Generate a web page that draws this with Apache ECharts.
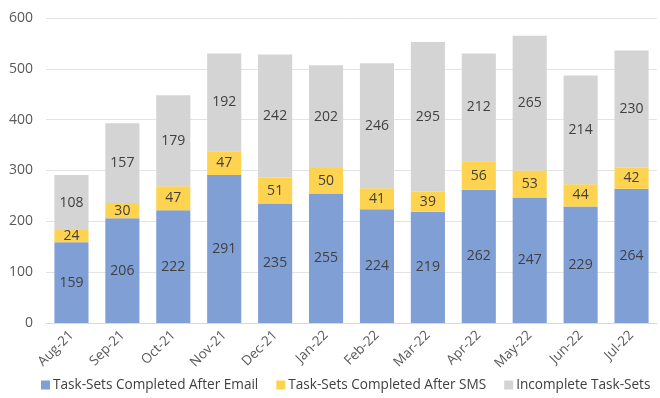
<!DOCTYPE html>
<html>
<head>
<meta charset="utf-8">
<script src="https://cdn.jsdelivr.net/npm/echarts@6/dist/echarts.min.js"></script>
<style>
  html, body { margin: 0; padding: 0; background: #fff; }
  #chart { width: 660px; height: 398px; }
</style>
</head>
<body>
<div id="chart"></div>
<script>
const months = ['Aug-21', 'Sep-21', 'Oct-21', 'Nov-21', 'Dec-21', 'Jan-22', 'Feb-22', 'Mar-22', 'Apr-22', 'May-22', 'Jun-22', 'Jul-22'];
const afterEmail = [159, 206, 222, 291, 235, 255, 224, 219, 262, 247, 229, 264];
const afterSms = [24, 30, 47, 47, 51, 50, 41, 39, 56, 53, 44, 42];
const incomplete = [108, 157, 179, 192, 242, 202, 246, 295, 212, 265, 214, 230];

const FONT = '"Open Sans", "Noto Sans", sans-serif';

function stackSeries(name, data, color) {
    return {
        name: name,
        type: 'bar',
        stack: 'total',
        data: data,
        barWidth: '67%',
        itemStyle: { color: color },
        label: {
            show: true,
            position: 'inside',
            color: '#404040',
            fontSize: 14,
            fontFamily: FONT,
        },
        emphasis: { disabled: true },
    };
}

const chart = echarts.init(document.getElementById('chart'));
chart.setOption({
    animation: false,
    textStyle: { fontFamily: FONT },
    grid: { left: 46, right: 3, top: 18, bottom: 75 },
    legend: {
        bottom: 1,
        left: 36,
        itemWidth: 9,
        itemHeight: 9,
        itemGap: 18,
        icon: 'rect',
        textStyle: { color: '#404040', fontSize: 13.6, fontFamily: FONT, padding: [0, 0, 0, -2] },
    },
    xAxis: {
        type: 'category',
        data: months,
        axisLine: { lineStyle: { color: '#d9d9d9' } },
        axisTick: { show: false },
        axisLabel: { rotate: 45, color: '#595959', fontSize: 13.5, margin: 10, interval: 0 },
    },
    yAxis: {
        type: 'value',
        min: 0,
        max: 600,
        interval: 100,
        axisLine: { show: false },
        axisTick: { show: false },
        axisLabel: { color: '#595959', fontSize: 14, margin: 13 },
        splitLine: { lineStyle: { color: '#e3e3e3' } },
    },
    series: [
        stackSeries('Task-Sets Completed After Email', afterEmail, '#7f9fd5'),
        stackSeries('Task-Sets Completed After SMS', afterSms, '#fdd34f'),
        stackSeries('Incomplete Task-Sets', incomplete, '#d4d4d4'),
    ],
});
</script>
</body>
</html>
